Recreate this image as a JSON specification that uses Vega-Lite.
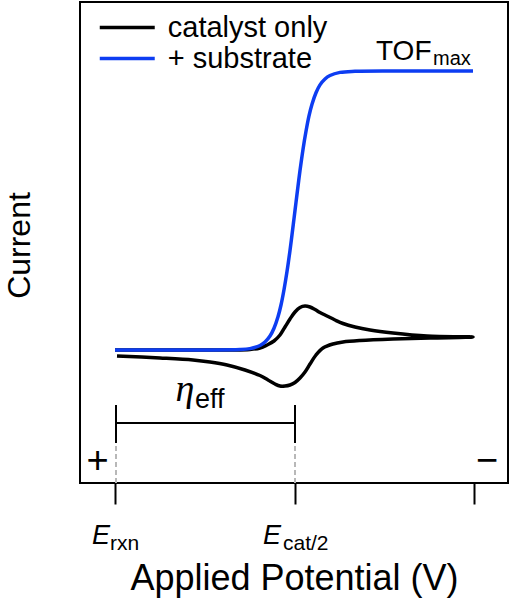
{
  "$schema": "https://vega.github.io/schema/vega-lite/v6.json",
  "width": 428,
  "height": 481,
  "autosize": "none",
  "padding": {"left": 80, "top": 2, "right": 3, "bottom": 117},
  "background": "white",
  "config": {
    "font": "Liberation Sans",
    "view": {"stroke": "black", "strokeWidth": 2},
    "legend": {
      "orient": "none", "legendX": 31.75, "legendY": 10, "title": null,
      "labelFontSize": 29, "labelColor": "black", "labelFont": "Liberation Sans",
      "symbolType": "M-2,0H2", "symbolSize": 756, "symbolStrokeWidth": 3.5,
      "labelOffset": 25, "rowPadding": 0, "padding": 0
    }
  },
  "datasets": {
    "curves": [
      {"series": "catalyst only", "i": 0, "E": 0, "I": 133},
      {"series": "catalyst only", "i": 1, "E": 65, "I": 133},
      {"series": "catalyst only", "i": 2, "E": 115, "I": 133},
      {"series": "catalyst only", "i": 3, "E": 135, "I": 133.5},
      {"series": "catalyst only", "i": 4, "E": 145, "I": 135},
      {"series": "catalyst only", "i": 5, "E": 152, "I": 138},
      {"series": "catalyst only", "i": 6, "E": 159, "I": 142},
      {"series": "catalyst only", "i": 7, "E": 165, "I": 148},
      {"series": "catalyst only", "i": 8, "E": 170, "I": 156},
      {"series": "catalyst only", "i": 9, "E": 175, "I": 164},
      {"series": "catalyst only", "i": 10, "E": 180, "I": 171},
      {"series": "catalyst only", "i": 11, "E": 185, "I": 175.5},
      {"series": "catalyst only", "i": 12, "E": 190, "I": 177},
      {"series": "catalyst only", "i": 13, "E": 195, "I": 176},
      {"series": "catalyst only", "i": 14, "E": 200, "I": 173.5},
      {"series": "catalyst only", "i": 15, "E": 205, "I": 170.5},
      {"series": "catalyst only", "i": 16, "E": 212, "I": 167},
      {"series": "catalyst only", "i": 17, "E": 220, "I": 163},
      {"series": "catalyst only", "i": 18, "E": 228, "I": 159.5},
      {"series": "catalyst only", "i": 19, "E": 240, "I": 156},
      {"series": "catalyst only", "i": 20, "E": 255, "I": 153},
      {"series": "catalyst only", "i": 21, "E": 278, "I": 150},
      {"series": "catalyst only", "i": 22, "E": 312, "I": 147},
      {"series": "catalyst only", "i": 23, "E": 358, "I": 146},
      {"series": "catalyst only", "i": 24, "E": 315, "I": 145},
      {"series": "catalyst only", "i": 25, "E": 278, "I": 144},
      {"series": "catalyst only", "i": 26, "E": 245, "I": 142.5},
      {"series": "catalyst only", "i": 27, "E": 228, "I": 141},
      {"series": "catalyst only", "i": 28, "E": 218, "I": 139},
      {"series": "catalyst only", "i": 29, "E": 208, "I": 135},
      {"series": "catalyst only", "i": 30, "E": 201, "I": 128},
      {"series": "catalyst only", "i": 31, "E": 195, "I": 119},
      {"series": "catalyst only", "i": 32, "E": 190, "I": 111},
      {"series": "catalyst only", "i": 33, "E": 185, "I": 105},
      {"series": "catalyst only", "i": 34, "E": 180, "I": 100.5},
      {"series": "catalyst only", "i": 35, "E": 175, "I": 98},
      {"series": "catalyst only", "i": 36, "E": 170, "I": 97},
      {"series": "catalyst only", "i": 37, "E": 165, "I": 97},
      {"series": "catalyst only", "i": 38, "E": 160, "I": 99},
      {"series": "catalyst only", "i": 39, "E": 153, "I": 103},
      {"series": "catalyst only", "i": 40, "E": 145, "I": 107.5},
      {"series": "catalyst only", "i": 41, "E": 130, "I": 113},
      {"series": "catalyst only", "i": 42, "E": 112, "I": 118},
      {"series": "catalyst only", "i": 43, "E": 95, "I": 121},
      {"series": "catalyst only", "i": 44, "E": 78, "I": 123},
      {"series": "catalyst only", "i": 45, "E": 45, "I": 125},
      {"series": "catalyst only", "i": 46, "E": 2, "I": 127},
      {"series": "+ substrate", "i": 0, "E": 0, "I": 133},
      {"series": "+ substrate", "i": 1, "E": 85, "I": 133},
      {"series": "+ substrate", "i": 2, "E": 125, "I": 133.4},
      {"series": "+ substrate", "i": 3, "E": 135, "I": 134.4},
      {"series": "+ substrate", "i": 4, "E": 145, "I": 137.5},
      {"series": "+ substrate", "i": 5, "E": 150, "I": 141},
      {"series": "+ substrate", "i": 6, "E": 155, "I": 147},
      {"series": "+ substrate", "i": 7, "E": 159, "I": 154.8},
      {"series": "+ substrate", "i": 8, "E": 163, "I": 166.2},
      {"series": "+ substrate", "i": 9, "E": 166, "I": 178},
      {"series": "+ substrate", "i": 10, "E": 169, "I": 193.3},
      {"series": "+ substrate", "i": 11, "E": 172, "I": 211.4},
      {"series": "+ substrate", "i": 12, "E": 175, "I": 232.6},
      {"series": "+ substrate", "i": 13, "E": 177, "I": 248.2},
      {"series": "+ substrate", "i": 14, "E": 179, "I": 264.4},
      {"series": "+ substrate", "i": 15, "E": 181, "I": 280.6},
      {"series": "+ substrate", "i": 16, "E": 183, "I": 296.8},
      {"series": "+ substrate", "i": 17, "E": 185, "I": 312.4},
      {"series": "+ substrate", "i": 18, "E": 188, "I": 333.6},
      {"series": "+ substrate", "i": 19, "E": 191, "I": 351.7},
      {"series": "+ substrate", "i": 20, "E": 194, "I": 367.1},
      {"series": "+ substrate", "i": 21, "E": 197, "I": 378.8},
      {"series": "+ substrate", "i": 22, "E": 201, "I": 390.3},
      {"series": "+ substrate", "i": 23, "E": 205, "I": 398.1},
      {"series": "+ substrate", "i": 24, "E": 210, "I": 404},
      {"series": "+ substrate", "i": 25, "E": 215, "I": 407.5},
      {"series": "+ substrate", "i": 26, "E": 225, "I": 410.6},
      {"series": "+ substrate", "i": 27, "E": 240, "I": 411.7},
      {"series": "+ substrate", "i": 28, "E": 285, "I": 412},
      {"series": "+ substrate", "i": 29, "E": 358, "I": 412}
    ],
    "dashes": [
      {"E": 1, "I": 0, "I2": 40},
      {"E": 180, "I": 0, "I2": 40}
    ],
    "bracket": [
      {"E": 1, "E2": 1, "I": 40, "I2": 78},
      {"E": 180, "E2": 180, "I": 40, "I2": 78},
      {"E": 1, "E2": 180, "I": 60, "I2": 60}
    ],
    "labels": [
      {"role": "big", "text": "TOF", "E": 261, "I": 423},
      {"role": "sub", "text": "max", "E": 318, "I": 418},
      {"role": "eta", "text": "η", "E": 70, "I": 82},
      {"role": "eff", "text": "eff", "E": 80, "I": 75},
      {"role": "sign", "text": "+", "E": -17.5, "I": 21},
      {"role": "sign", "text": "−", "E": 372, "I": 21},
      {"role": "E", "text": "E", "E": -5, "I": -61},
      {"role": "E", "text": "E", "E": 166, "I": -61},
      {"role": "Esub", "text": "rxn", "E": -5, "I": -67},
      {"role": "Esub", "text": "cat/2", "E": 168, "I": -67}
    ]
  },
  "encoding": {
    "x": {
      "field": "E", "type": "quantitative",
      "scale": {"domain": [-35, 393], "nice": false, "zero": false},
      "axis": {
        "values": [0, 180, 359], "labels": false, "ticks": true, "tickSize": 21,
        "tickWidth": 2, "tickColor": "black", "domain": false, "grid": false,
        "title": "Applied Potential (V)", "titleFontSize": 36, "titleFontWeight": "normal",
        "titleColor": "black", "titleY": 106, "titleBaseline": "alphabetic"
      }
    },
    "y": {
      "field": "I", "type": "quantitative",
      "scale": {"domain": [0, 481], "nice": false, "zero": false},
      "axis": {
        "title": "Current", "labels": false, "ticks": false, "domain": false, "grid": false,
        "titleFontSize": 32, "titleFontWeight": "normal", "titleColor": "black",
        "titleX": -51, "titleY": 243, "titleAlign": "center", "titleBaseline": "alphabetic"
      }
    }
  },
  "layer": [
    {
      "data": {"name": "dashes"},
      "mark": {"type": "rule", "color": "#b8b8b8", "strokeWidth": 2, "strokeDash": [5, 3]},
      "encoding": {"y2": {"field": "I2"}}
    },
    {
      "data": {"name": "bracket"},
      "mark": {"type": "rule", "color": "black", "strokeWidth": 2},
      "encoding": {"x2": {"field": "E2"}, "y2": {"field": "I2"}}
    },
    {
      "data": {"name": "curves"},
      "transform": [{"filter": "datum.series === 'catalyst only'"}],
      "mark": {"type": "line", "strokeWidth": 3.5, "interpolate": "catmull-rom"},
      "encoding": {
        "order": {"field": "i", "type": "quantitative"},
        "color": {"field": "series", "type": "nominal",
          "scale": {"domain": ["catalyst only", "+ substrate"], "range": ["#000000", "#0d3df2"]}}
      }
    },
    {
      "data": {"name": "curves"},
      "transform": [{"filter": "datum.series === '+ substrate'"}],
      "mark": {"type": "line", "strokeWidth": 3.5, "interpolate": "catmull-rom"},
      "encoding": {
        "order": {"field": "i", "type": "quantitative"},
        "color": {"field": "series", "type": "nominal"}
      }
    },
    {
      "data": {"name": "labels"},
      "transform": [{"filter": "datum.role === 'big'"}],
      "mark": {"type": "text", "fontSize": 28, "align": "left", "baseline": "alphabetic", "color": "black"},
      "encoding": {"text": {"field": "text"}}
    },
    {
      "data": {"name": "labels"},
      "transform": [{"filter": "datum.role === 'sub'"}],
      "mark": {"type": "text", "fontSize": 20, "align": "left", "baseline": "alphabetic", "color": "black"},
      "encoding": {"text": {"field": "text"}}
    },
    {
      "data": {"name": "labels"},
      "transform": [{"filter": "datum.role === 'eta'"}],
      "mark": {"type": "text", "fontSize": 38, "font": "Liberation Serif", "fontStyle": "italic", "align": "center", "baseline": "alphabetic", "color": "black"},
      "encoding": {"text": {"field": "text"}}
    },
    {
      "data": {"name": "labels"},
      "transform": [{"filter": "datum.role === 'eff'"}],
      "mark": {"type": "text", "fontSize": 27, "align": "left", "baseline": "alphabetic", "color": "black"},
      "encoding": {"text": {"field": "text"}}
    },
    {
      "data": {"name": "labels"},
      "transform": [{"filter": "datum.role === 'sign'"}],
      "mark": {"type": "text", "fontSize": 38, "align": "center", "baseline": "middle", "color": "black"},
      "encoding": {"text": {"field": "text"}}
    },
    {
      "data": {"name": "labels"},
      "transform": [{"filter": "datum.role === 'E'"}],
      "mark": {"type": "text", "fontSize": 27, "fontStyle": "italic", "align": "right", "baseline": "alphabetic", "color": "black"},
      "encoding": {"text": {"field": "text"}}
    },
    {
      "data": {"name": "labels"},
      "transform": [{"filter": "datum.role === 'Esub'"}],
      "mark": {"type": "text", "fontSize": 21, "align": "left", "baseline": "alphabetic", "color": "black"},
      "encoding": {"text": {"field": "text"}}
    }
  ]
}
